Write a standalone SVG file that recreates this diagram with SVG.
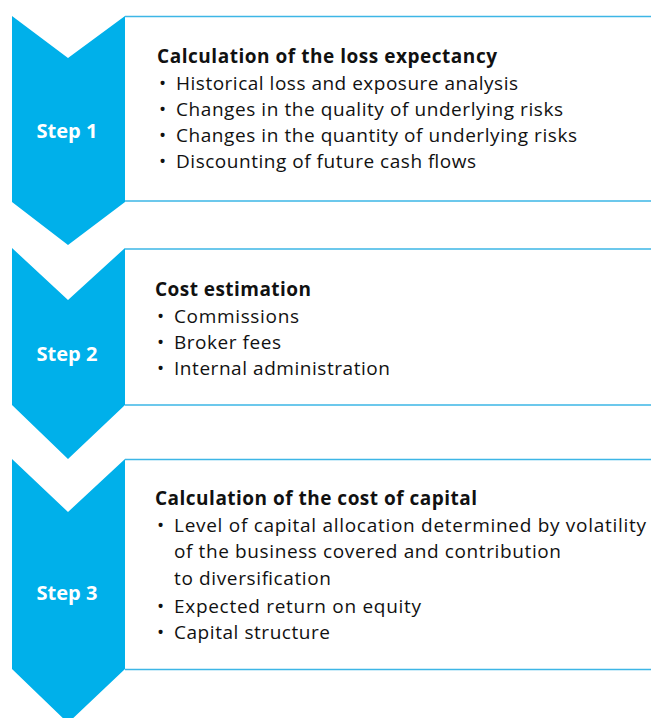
<svg xmlns="http://www.w3.org/2000/svg" width="651" height="718" viewBox="0 0 651 718">
<style>
.chev{fill:#00b0ea}
.line{stroke:#3db6e6;stroke-width:1.6;fill:none}
.step{font-family:"Open Sans","Noto Sans",sans-serif;font-weight:bold;font-size:20px;fill:#ffffff;text-anchor:middle}
.title{font-family:"Open Sans","Noto Sans",sans-serif;font-weight:bold;font-size:19px;fill:#111111}
.item{font-family:"Open Sans","Noto Sans",sans-serif;font-size:19px;fill:#111111}
</style>
<rect width="651" height="718" fill="#ffffff"/>
<g id="step1">
<polygon class="chev" points="12,16 68,58 125,16 125,202 68,245 12,202"/>
<path class="line" d="M125,16.5 H651 M125,201 H651"/>
<text class="step" x="67" y="138" textLength="61" lengthAdjust="spacingAndGlyphs">Step 1</text>
<text class="title" x="157" y="63" textLength="340" lengthAdjust="spacing">Calculation of the loss expectancy</text>
<text class="item" x="159" y="90">•</text>
<text class="item" x="176" y="90" textLength="342" lengthAdjust="spacing">Historical loss and exposure analysis</text>
<text class="item" x="159" y="116">•</text>
<text class="item" x="176" y="116" textLength="387" lengthAdjust="spacing">Changes in the quality of underlying risks</text>
<text class="item" x="159" y="142">•</text>
<text class="item" x="176" y="142" textLength="401" lengthAdjust="spacing">Changes in the quantity of underlying risks</text>
<text class="item" x="159" y="168">•</text>
<text class="item" x="176" y="168" textLength="300" lengthAdjust="spacing">Discounting of future cash flows</text>
</g>
<g id="step2">
<polygon class="chev" points="12,248 68,300 125,248 125,405 68,459 12,405"/>
<path class="line" d="M125,249 H651 M125,405 H651"/>
<text class="step" x="67" y="361" textLength="61" lengthAdjust="spacingAndGlyphs">Step 2</text>
<text class="title" x="155" y="296" textLength="156" lengthAdjust="spacing">Cost estimation</text>
<text class="item" x="157" y="323">•</text>
<text class="item" x="174" y="323" textLength="125" lengthAdjust="spacing">Commissions</text>
<text class="item" x="157" y="349">•</text>
<text class="item" x="174" y="349" textLength="107" lengthAdjust="spacing">Broker fees</text>
<text class="item" x="157" y="375">•</text>
<text class="item" x="174" y="375" textLength="216" lengthAdjust="spacing">Internal administration</text>
</g>
<g id="step3">
<polygon class="chev" points="12,459 68,512 125,459 125,669 68,723 12,669"/>
<path class="line" d="M125,459.5 H651 M125,669.5 H651"/>
<text class="step" x="67" y="600" textLength="61" lengthAdjust="spacingAndGlyphs">Step 3</text>
<text class="title" x="155" y="505" textLength="322" lengthAdjust="spacing">Calculation of the cost of capital</text>
<text class="item" x="157" y="532">•</text>
<text class="item" x="174" y="532" textLength="472" lengthAdjust="spacing">Level of capital allocation determined by volatility</text>
<text class="item" x="174" y="558" textLength="387" lengthAdjust="spacing">of the business covered and contribution</text>
<text class="item" x="174" y="585" textLength="157" lengthAdjust="spacing">to diversification</text>
<text class="item" x="157" y="613">•</text>
<text class="item" x="174" y="613" textLength="247" lengthAdjust="spacing">Expected return on equity</text>
<text class="item" x="157" y="639">•</text>
<text class="item" x="174" y="639" textLength="156" lengthAdjust="spacing">Capital structure</text>
</g>
<g id="connectors"></g>
</svg>
